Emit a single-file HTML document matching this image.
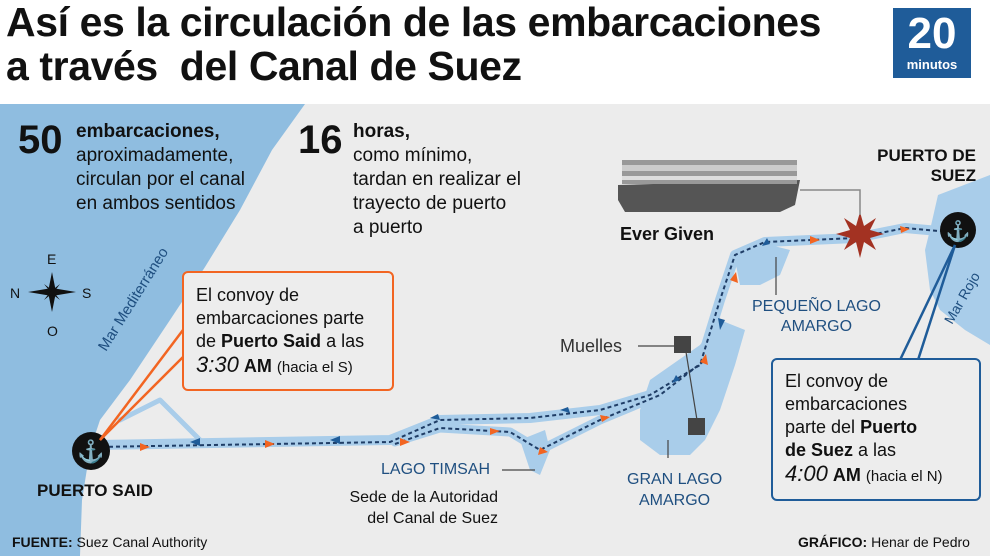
<!DOCTYPE html>
<html><head><meta charset="utf-8"><style>
body{margin:0;width:990px;height:556px;overflow:hidden;background:#fff;font-family:"Liberation Sans",sans-serif}
.t{position:absolute;font-family:"Liberation Sans",sans-serif;color:#111}
</style></head><body>
<div style="position:relative;width:990px;height:556px">
<div class="t" style="left:6px;top:0px;font-size:41px;font-weight:bold;line-height:44px;letter-spacing:-0.4px">Así es la circulación de las embarcaciones<br>a través&nbsp; del Canal de Suez</div>
<div style="position:absolute;left:893px;top:8px;width:78px;height:70px;background:#1f5c99;color:#fff;text-align:center">
<div style="font-size:44px;font-weight:bold;line-height:48px;margin-top:2px">20</div>
<div style="font-size:13px;font-weight:bold;line-height:14px">minutos</div></div>
<svg style="position:absolute;left:0;top:104px" width="990" height="452" viewBox="0 104 990 452">
<rect x="0" y="104" width="990" height="452" fill="#ececec"/>
<path d="M0,104 L305,104 L272,150 L240,210 L205,267 L170,320 L130,380 L100,420 L90,450 L82,500 L80,556 L0,556Z" fill="#8fbde0"/>
<path d="M938,195 L990,175 L990,345 L965,330 L940,310 L930,290 L925,250 L930,230Z" fill="#a9cdea"/>
<g fill="none" stroke="#a9cdea" stroke-linecap="round" stroke-linejoin="round">
<path d="M95,445 L390,440 L440,420 L530,418 L600,410 L650,395 L700,365 L720,300 L735,255 L765,242 L855,238 L905,228 L950,232" stroke-width="10"/>
<path d="M395,442 L440,428 L510,432 L540,450 L600,420 L660,395 L705,360" stroke-width="9"/>
<path d="M120,420 L160,400 L200,440" stroke-width="5"/>
</g>
<path d="M650,380 L700,345 L720,320 L745,330 L735,365 L720,410 L705,440 L690,455 L660,455 L640,440 L640,410Z" fill="#a9cdea"/>
<path d="M735,260 L770,245 L790,250 L780,275 L760,285 L740,285Z" fill="#a9cdea"/>
<path d="M520,440 L545,430 L550,450 L540,475 L530,470Z" fill="#a9cdea"/>
<g fill="none" stroke="#1f3d66" stroke-width="2" stroke-dasharray="4,3">
<path d="M95,447 L390,442 L440,420 L530,418 L600,410 L650,395 L700,365 L720,300 L735,255 L765,242 L855,238 L905,228 L950,232"/>
<path d="M395,444 L440,428 L510,432 L540,450 L600,420 L660,395 L705,360"/>
</g>
<g fill="#f26522">
<polygon points="140,443 150,447 140,451"/><polygon points="265,440 275,444 265,448"/><polygon points="400,438 410,442 400,446"/>
<polygon points="490,428 500,431 490,435"/><polygon points="540,447 548,452 538,455"/><polygon points="600,415 610,417 602,422"/>
<polygon points="700,362 706,354 708,365"/><polygon points="730,280 736,272 738,283"/><polygon points="810,236 820,240 810,244"/><polygon points="900,226 910,229 901,233"/>
</g>
<g fill="#1f5c99">
<polygon points="200,446 190,442 200,438"/><polygon points="340,444 330,440 340,436"/><polygon points="440,420 430,418 438,414"/>
<polygon points="570,413 560,410 568,407"/><polygon points="680,380 672,383 676,375"/><polygon points="725,320 720,330 718,318"/><polygon points="770,244 762,246 767,238"/>
</g>
<polygon points="860,212 864,226 876,218 870,230 884,234 870,238 876,250 864,242 860,258 856,242 844,250 850,238 836,234 850,230 844,218 856,226" fill="#a33222"/>
<polyline points="860,215 860,190 800,190" fill="none" stroke="#888" stroke-width="1.5"/>
<g>
<path d="M618,185 L800,180 L795,205 L780,212 L625,212 L618,200Z" fill="#555"/>
<rect x="622" y="160" width="175" height="24" fill="#999"/>
<rect x="622" y="165" width="175" height="6" fill="#ccc"/>
<rect x="622" y="176" width="175" height="4" fill="#ddd"/>
</g>
<circle cx="91" cy="451" r="19" fill="#111"/>
<text x="91" y="459" fill="#fff" font-size="22" text-anchor="middle" font-weight="bold">⚓</text>
<circle cx="958" cy="230" r="18" fill="#111"/>
<text x="958" y="238" fill="#fff" font-size="20" text-anchor="middle" font-weight="bold">⚓</text>
<g stroke="#f26522" stroke-width="2.5"><line x1="100" y1="440" x2="183" y2="330"/><line x1="100" y1="440" x2="183" y2="357"/></g>
<g stroke="#1f5c99" stroke-width="2.5"><line x1="955" y1="245" x2="900" y2="360"/><line x1="955" y1="245" x2="918" y2="360"/></g>
<g stroke="#444" stroke-width="1.2" fill="none"><line x1="638" y1="346" x2="676" y2="346"/><line x1="686" y1="352" x2="697" y2="420"/><line x1="776" y1="257" x2="776" y2="295"/><line x1="668" y1="440" x2="668" y2="458"/><line x1="502" y1="470" x2="535" y2="470"/></g>
<rect x="674" y="336" width="17" height="17" fill="#444"/><rect x="688" y="418" width="17" height="17" fill="#444"/>
<g fill="#111">
<polygon points="52,272 56,292 52,312 48,292"/><polygon points="28,292 52,288 76,292 52,296"/>
<polygon points="44,284 52,290 60,300 52,294" /><polygon points="60,284 54,292 44,300 50,292"/>
</g>
<g font-size="14" fill="#111" font-family="Liberation Sans"><text x="47" y="264">E</text><text x="10" y="298">N</text><text x="82" y="298">S</text><text x="47" y="336">O</text></g>
<text x="0" y="0" transform="translate(106,352) rotate(-58)" font-size="15" fill="#1f4f80">Mar Mediterráneo</text>
<text x="0" y="0" transform="translate(952,325) rotate(-60)" font-size="14" fill="#1f4f80">Mar Rojo</text>
</svg>
<div class="t" style="left:18px;top:118px;font-size:40px;font-weight:bold">50</div>
<div class="t" style="left:76px;top:120px;font-size:19px;line-height:24px"><b>embarcaciones,</b><br>aproximadamente,<br>circulan por el canal<br>en ambos sentidos</div>
<div class="t" style="left:298px;top:118px;font-size:40px;font-weight:bold">16</div>
<div class="t" style="left:353px;top:120px;font-size:19px;line-height:24px"><b>horas,</b><br>como mínimo,<br>tardan en realizar el<br>trayecto de puerto<br>a puerto</div>
<div class="t" style="left:182px;top:271px;width:212px;height:120px;border:2.5px solid #f26522;border-radius:6px;background:#ededed;padding:11px 0 0 12px;box-sizing:border-box;font-size:18px;line-height:23px">El convoy de<br>embarcaciones parte<br>de <b>Puerto Said</b> a las<br><span style="font-size:22px;font-style:italic">3:30</span> <b>AM</b> <span style="font-size:15px">(hacia el S)</span></div>
<div class="t" style="left:771px;top:358px;width:210px;height:143px;border:2.5px solid #1f5c99;border-radius:6px;background:#ededed;padding:10px 0 0 12px;box-sizing:border-box;font-size:18px;line-height:23px">El convoy de<br>embarcaciones<br>parte del <b>Puerto<br>de Suez</b> a las<br><span style="font-size:22px;font-style:italic">4:00</span> <b>AM</b> <span style="font-size:15px">(hacia el N)</span></div>
<div class="t" style="left:37px;top:481px;font-size:17px;font-weight:bold">PUERTO SAID</div>
<div class="t" style="left:860px;top:146px;font-size:17px;font-weight:bold;text-align:right;width:116px;line-height:20px">PUERTO DE<br>SUEZ</div>
<div class="t" style="left:620px;top:224px;font-size:18px;font-weight:bold">Ever Given</div>
<div class="t" style="left:560px;top:336px;font-size:18px;color:#333">Muelles</div>
<div class="t" style="left:752px;top:297px;font-size:16px;color:#1f4f80;text-align:center;line-height:20px">PEQUEÑO LAGO<br>AMARGO</div>
<div class="t" style="left:627px;top:469px;font-size:16px;color:#1f4f80;text-align:center;line-height:21px">GRAN LAGO<br>AMARGO</div>
<div class="t" style="left:381px;top:461px;font-size:16px;color:#1f4f80">LAGO TIMSAH</div>
<div class="t" style="left:322px;top:487px;font-size:16px;text-align:right;line-height:21px;width:176px">Sede de la Autoridad<br>del Canal de Suez</div>
<div class="t" style="left:12px;top:534px;font-size:14px"><b>FUENTE:</b> Suez Canal Authority</div>
<div class="t" style="left:798px;top:534px;font-size:14px"><b>GRÁFICO:</b> Henar de Pedro</div>
</div>
</body></html>
